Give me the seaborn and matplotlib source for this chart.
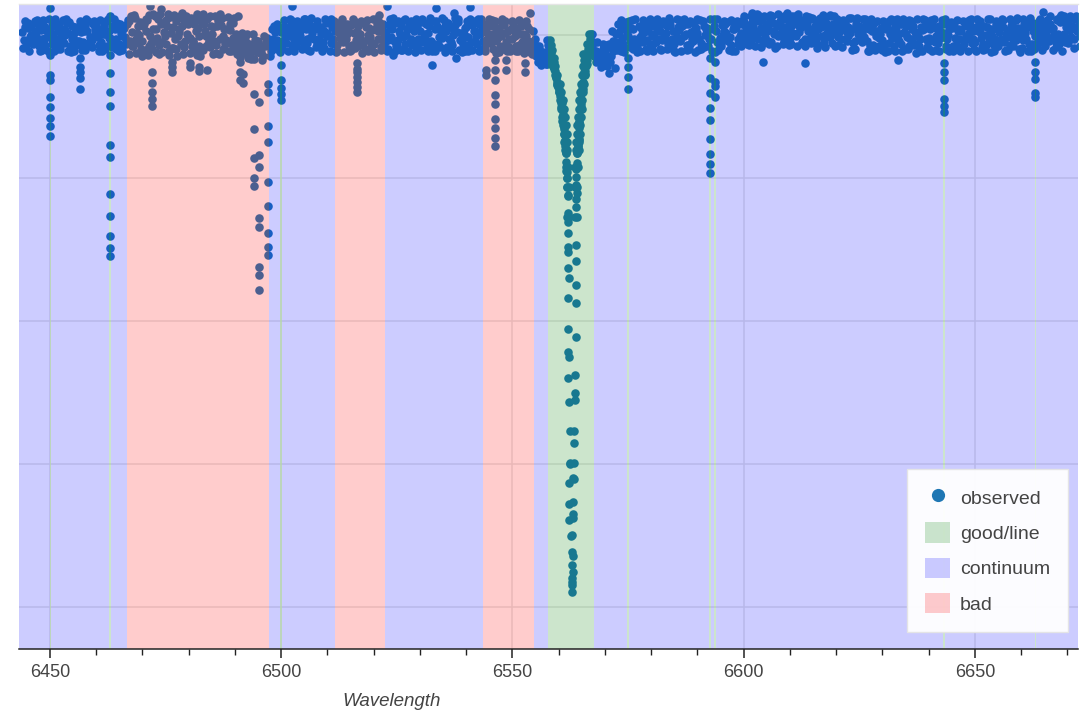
import numpy as np
import pandas as pd
import seaborn as sns
import matplotlib.pyplot as plt
from matplotlib.lines import Line2D
from matplotlib.patches import Patch
from matplotlib.ticker import MultipleLocator

sns.set_theme(style='white')
plt.rcParams['font.family'] = ['Liberation Sans', 'DejaVu Sans']

# Observed spectrum: six exposures on a 1 A grid, each slightly shifted
wave_grid = np.arange(6444, 6673)
exposure_shift = [0.0, 0.33, 0.67, 0.17, 0.5, 0.83]

flux_a = [1.004, 0.991, 1.012, 0.998, 1.007, 0.986,
          1.009, 0.995, 1.015, 0.989, 1.003, 0.997, 1.011, 0.984, 1.006, 0.993,
          1.013, 0.990, 1.002, 0.996, 1.008, 0.987, 1.010, 1.019, 0.985, 1.012,
          0.992, 1.021, 0.980, 1.008, 1.016, 0.988, 1.025, 0.995, 1.004, 0.983,
          1.018, 0.990, 1.010, 0.979, 1.022, 1.001, 0.986, 1.014, 0.993, 1.007,
          0.981, 0.995, 0.975, 0.988, 0.979, 0.992, 0.984, 0.996, 1.008, 0.993,
          1.004, 0.989, 1.012, 0.997, 1.006, 0.985, 1.015, 0.994, 1.009, 0.990,
          1.003, 1.011, 0.986, 1.007, 0.995, 1.014, 0.982, 1.001, 0.992, 1.010,
          0.988, 1.005, 1.016, 0.993, 1.008, 0.984, 1.012, 1.000, 1.019, 0.989,
          1.006, 0.995, 1.013, 0.987, 1.010, 0.998, 1.017, 0.986, 1.004, 0.992,
          1.011, 0.990, 1.006, 1.002, 0.985, 1.013, 0.992, 1.008, 0.981, 1.005,
          0.994, 1.010, 0.983, 0.999, 0.990, 0.978, 0.968, 0.966, 0.983, 0.952,
          0.925, 0.886, 0.775, 0.380, 0.835, 0.930, 0.960, 0.985, 0.978, 0.968,
          0.975, 0.983, 0.990, 1.004, 0.987, 0.998, 1.008, 0.985, 1.001, 0.993,
          1.012, 0.990, 1.005, 0.996, 1.014, 0.988, 1.007, 0.999, 1.016, 0.991,
          1.003, 0.986, 1.010, 0.994, 1.006, 0.989, 1.015, 0.997, 1.008, 0.992,
          1.018, 1.002, 1.012, 0.995, 1.021, 1.006, 0.990, 1.016, 1.003, 1.011,
          0.996, 1.019, 1.004, 1.013, 0.993, 1.022, 1.008, 0.998, 1.015, 1.001,
          1.010, 0.994, 1.017, 1.003, 0.991, 1.012, 0.997, 1.008, 0.986, 1.005,
          0.993, 1.011, 0.999, 1.007, 0.988, 1.013, 0.995, 1.004, 0.984, 1.009,
          0.996, 1.012, 0.989, 1.003, 0.994, 1.010, 0.986, 1.006, 0.998, 1.014,
          0.990, 1.004, 1.013, 0.992, 1.008, 0.985, 1.011, 0.997, 1.016, 0.993,
          1.007, 0.994, 1.012, 0.998, 1.006, 1.017, 0.991, 1.010, 1.002, 1.020,
          0.996, 1.013, 1.005]

flux_b = [0.993, 1.010, 0.988, 1.015, 0.995, 1.006,
          0.987, 1.013, 0.999, 1.007, 0.984, 1.011, 0.992, 1.005, 0.989, 1.016,
          0.997, 1.008, 0.985, 1.012, 0.994, 1.003, 0.988, 0.991, 1.024, 1.000,
          1.015, 0.985, 1.009, 1.023, 0.990, 1.012, 0.982, 1.019, 0.987, 1.021,
          0.996, 1.024, 0.984, 1.015, 0.992, 1.011, 1.020, 0.981, 1.009, 0.988,
          1.001, 0.977, 0.990, 0.972, 0.993, 0.981, 0.998, 0.985, 0.994, 1.011,
          0.992, 1.010, 0.986, 1.014, 0.991, 1.008, 0.996, 1.013, 0.984, 1.006,
          0.998, 0.987, 1.012, 0.990, 1.016, 0.986, 1.005, 0.993, 1.011, 0.983,
          1.009, 0.995, 0.987, 1.014, 0.991, 1.020, 0.997, 1.008, 0.986, 1.012,
          0.990, 1.015, 0.992, 1.009, 0.983, 1.013, 0.994, 1.006, 1.018, 0.988,
          0.997, 1.014, 0.987, 1.010, 1.004, 0.989, 1.011, 0.985, 1.003, 0.995,
          1.007, 0.986, 1.002, 0.991, 0.981, 0.985, 0.972, 0.960, 0.975, 0.944,
          0.915, 0.860, 0.550, 0.430, 0.855, 0.935, 0.980, 0.975, 0.990, 0.962,
          0.982, 0.970, 1.002, 0.989, 1.009, 0.983, 0.995, 1.012, 0.990, 1.006,
          0.987, 1.009, 0.993, 1.013, 0.985, 1.004, 0.992, 1.015, 0.988, 1.007,
          0.995, 1.012, 0.984, 1.008, 0.990, 1.014, 0.996, 0.986, 1.011, 1.003,
          0.994, 1.014, 0.997, 1.020, 1.004, 0.992, 1.017, 0.999, 1.023, 0.990,
          1.012, 0.998, 1.021, 0.994, 1.009, 1.003, 1.018, 0.991, 1.006, 1.016,
          0.997, 1.013, 0.992, 1.008, 1.015, 0.994, 1.010, 0.985, 1.006, 0.996,
          1.012, 0.989, 1.007, 0.993, 1.016, 0.997, 1.009, 0.987, 1.011, 0.995,
          1.008, 0.990, 1.013, 0.997, 1.009, 0.984, 1.005, 0.993, 1.012, 0.989,
          1.011, 0.996, 0.986, 1.009, 0.994, 1.013, 0.990, 1.007, 0.985, 1.010,
          0.993, 1.011, 0.988, 1.014, 0.996, 1.004, 1.015, 0.992, 1.018, 1.001,
          1.014, 0.994, 1.021]

flux_c = [1.011, 0.997, 1.005, 0.984, 1.013, 0.999,
          1.002, 0.988, 1.008, 1.017, 0.995, 0.986, 1.004, 1.012, 0.997, 1.001,
          0.986, 1.014, 1.006, 0.989, 1.011, 0.998, 1.016, 1.004, 0.995, 0.980,
          1.006, 0.998, 1.027, 0.986, 1.004, 0.978, 1.011, 0.999, 1.023, 1.002,
          0.985, 1.005, 1.019, 0.998, 0.983, 1.026, 0.995, 1.008, 0.978, 1.017,
          0.994, 0.984, 1.002, 0.982, 0.987, 0.976, 0.990, 0.993, 1.004, 0.987,
          1.013, 0.998, 0.993, 1.005, 1.016, 0.994, 1.003, 0.987, 1.011, 1.017,
          0.989, 1.006, 0.996, 1.015, 0.984, 1.003, 1.012, 0.988, 1.000, 1.007,
          1.015, 0.983, 1.004, 0.997, 1.017, 1.002, 0.988, 1.014, 1.005, 0.994,
          1.018, 1.003, 0.986, 1.012, 0.996, 1.006, 0.990, 1.014, 0.993, 1.010,
          0.986, 1.005, 1.015, 0.992, 1.012, 1.001, 0.994, 1.016, 0.990, 1.008,
          0.985, 1.002, 0.996, 1.008, 0.986, 0.980, 0.976, 0.970, 0.960, 0.930,
          0.905, 0.810, 0.300, 0.770, 0.885, 0.950, 0.985, 0.970, 0.972, 0.980,
          0.968, 0.992, 0.979, 0.996, 1.002, 1.010, 0.988, 0.997, 1.013, 0.984,
          1.001, 0.994, 1.016, 0.987, 1.006, 0.997, 1.012, 0.986, 1.004, 1.010,
          0.989, 1.000, 0.995, 1.013, 0.987, 1.005, 0.991, 1.009, 0.994, 1.016,
          1.007, 0.991, 1.025, 1.010, 0.997, 1.019, 1.005, 1.012, 0.993, 1.021,
          1.003, 1.014, 0.990, 1.017, 1.001, 0.995, 1.011, 1.020, 0.997, 1.008,
          1.004, 1.016, 0.999, 0.989, 1.007, 1.003, 0.991, 1.013, 0.998, 1.010,
          0.987, 1.002, 1.014, 0.991, 1.004, 0.985, 1.012, 0.999, 1.007, 0.983,
          1.015, 0.998, 1.004, 0.985, 1.016, 0.996, 1.009, 0.988, 1.003, 0.994,
          1.005, 0.987, 1.011, 0.998, 1.015, 0.995, 1.002, 0.986, 1.007, 0.999,
          1.015, 0.987, 1.005, 0.991, 1.010, 0.997, 1.008, 1.021, 0.994, 1.011,
          1.007, 1.023, 0.998]

flux_d = [0.982, 1.017, 0.994, 1.021, 0.979, 1.008,
          0.996, 1.022, 0.981, 1.000, 1.018, 0.977, 1.009, 0.990, 1.020, 0.983,
          1.006, 0.978, 1.019, 0.992, 0.981, 1.015, 0.997, 0.974, 1.028, 0.989,
          1.012, 0.972, 1.030, 0.996, 0.976, 1.021, 1.003, 0.980, 1.026, 0.991,
          0.975, 1.016, 0.999, 1.029, 0.987, 0.973, 1.012, 1.024, 0.990, 0.977,
          0.988, 0.969, 0.997, 0.978, 0.966, 0.985, 0.971, 0.989, 0.980, 1.016,
          0.980, 1.003, 1.021, 0.985, 0.999, 1.022, 0.978, 1.011, 0.995, 0.982,
          1.019, 0.994, 0.977, 1.022, 1.002, 0.979, 0.993, 1.020, 0.981, 0.997,
          0.976, 1.018, 1.001, 0.980, 1.024, 0.993, 0.979, 1.008, 0.995, 1.022,
          0.979, 1.001, 1.024, 0.978, 0.997, 1.021, 0.982, 1.000, 1.023, 0.976,
          1.020, 0.979, 0.998, 1.022, 0.977, 0.996, 1.019, 0.976, 1.014, 0.983,
          1.015, 0.977, 0.990, 1.013, 0.974, 0.970, 0.958, 0.965, 0.980, 0.950,
          0.920, 0.868, 0.660, 0.330, 0.845, 0.925, 0.970, 0.985, 0.962, 0.955,
          0.986, 0.962, 0.981, 1.014, 0.976, 1.019, 0.981, 0.992, 1.021, 0.978,
          0.998, 1.022, 0.979, 1.003, 1.020, 0.976, 0.993, 1.023, 0.980, 1.017,
          0.979, 1.020, 1.001, 0.977, 1.022, 0.984, 1.003, 1.021, 0.978, 0.999,
          1.026, 0.986, 1.007, 1.028, 0.989, 1.012, 1.027, 0.985, 1.013, 1.002,
          0.988, 1.027, 1.010, 0.984, 1.025, 0.999, 0.986, 1.028, 1.008, 0.989,
          1.023, 0.983, 1.006, 1.024, 0.981, 0.999, 1.022, 0.978, 1.017, 0.984,
          1.020, 0.978, 0.996, 1.022, 0.977, 1.001, 1.019, 0.975, 0.995, 1.021,
          0.980, 1.022, 0.977, 1.016, 1.000, 0.978, 1.021, 0.983, 0.995, 1.023,
          0.977, 1.019, 0.981, 1.022, 0.978, 1.004, 1.021, 0.979, 0.994, 1.024,
          0.982, 1.020, 0.978, 1.003, 1.023, 0.984, 1.026, 1.001, 0.987, 1.027,
          0.989, 1.024, 1.010]

flux_e = [1.019, 0.978, 1.002, 0.990, 1.021, 0.977,
          1.014, 0.980, 0.993, 1.022, 0.976, 1.004, 1.019, 0.979, 0.988, 1.020,
          0.977, 1.001, 1.022, 0.983, 1.017, 0.979, 0.992, 1.027, 0.975, 1.018,
          0.979, 1.028, 0.991, 0.973, 1.017, 1.029, 0.982, 0.970, 1.013, 1.027,
          1.024, 0.980, 0.971, 1.006, 1.027, 0.992, 0.974, 0.999, 1.025, 0.996,
          0.973, 1.003, 0.983, 0.967, 0.991, 0.975, 0.984, 0.970, 1.012, 0.979,
          1.021, 0.977, 1.005, 1.019, 0.980, 0.989, 1.024, 0.983, 1.001, 1.023,
          0.978, 1.020, 1.003, 0.976, 1.010, 1.023, 0.985, 0.975, 1.021, 0.990,
          1.022, 0.979, 0.992, 1.023, 0.978, 1.005, 1.021, 0.977, 1.012, 0.981,
          1.023, 0.984, 0.977, 1.019, 1.004, 0.976, 1.011, 1.024, 0.979, 1.002,
          0.978, 1.019, 1.023, 0.981, 0.994, 1.021, 0.975, 0.999, 1.020, 0.977,
          0.999, 1.021, 0.975, 0.983, 1.006, 0.962, 0.972, 0.960, 0.968, 0.940,
          0.905, 0.835, 0.400, 0.500, 0.878, 0.948, 0.985, 0.990, 0.968, 0.987,
          0.957, 1.005, 0.990, 0.978, 1.018, 0.992, 1.022, 0.977, 1.004, 1.019,
          0.977, 1.014, 1.020, 0.981, 0.995, 1.022, 0.978, 1.002, 1.019, 0.976,
          1.021, 0.983, 0.994, 1.023, 0.979, 1.000, 1.018, 0.977, 1.020, 0.985,
          1.010, 1.027, 0.984, 1.004, 1.026, 0.988, 1.002, 1.029, 0.987, 1.006,
          1.027, 0.985, 1.015, 1.026, 0.989, 1.013, 1.024, 0.983, 1.010, 1.027,
          0.986, 1.021, 1.011, 0.979, 1.024, 0.990, 1.017, 1.022, 0.979, 1.002,
          0.976, 1.020, 0.985, 1.002, 1.023, 0.980, 0.994, 1.022, 0.978, 1.016,
          1.021, 0.979, 0.996, 1.023, 0.978, 1.013, 0.994, 1.020, 0.977, 1.006,
          1.022, 0.983, 1.000, 0.976, 1.020, 0.991, 0.978, 1.023, 1.001, 0.980,
          1.022, 0.978, 1.017, 0.985, 0.979, 1.021, 0.996, 0.983, 1.025, 0.990,
          1.026, 0.982, 1.012]

flux_f = [0.985, 1.000, 1.020, 0.977, 0.996, 1.022,
          0.978, 1.005, 1.021, 0.977, 1.012, 0.992, 0.979, 1.023, 0.985, 1.009,
          1.021, 0.980, 0.996, 1.023, 0.977, 1.009, 1.021, 0.985, 1.003, 0.971,
          1.023, 0.989, 0.976, 1.030, 0.998, 0.972, 1.028, 1.008, 0.974, 1.015,
          0.991, 0.972, 1.027, 0.985, 1.012, 0.975, 1.029, 0.988, 1.016, 1.024,
          0.979, 0.990, 0.968, 1.001, 0.976, 0.965, 0.994, 0.978, 0.987, 0.976,
          0.997, 1.022, 0.978, 0.991, 1.023, 0.979, 1.009, 1.020, 0.977, 0.998,
          1.022, 0.976, 1.018, 0.998, 0.977, 1.020, 0.999, 1.017, 0.977, 1.023,
          0.995, 1.011, 0.977, 1.021, 0.985, 0.979, 1.023, 0.990, 0.976, 1.018,
          0.997, 0.978, 1.020, 0.988, 1.024, 0.983, 0.977, 1.019, 1.003, 0.978,
          1.023, 0.992, 0.978, 1.016, 1.022, 0.980, 1.004, 1.022, 0.977, 1.019,
          0.978, 1.013, 1.020, 0.976, 0.995, 0.985, 0.966, 0.975, 0.956, 0.930,
          0.897, 0.800, 0.235, 0.815, 0.900, 0.960, 0.995, 0.975, 0.975, 0.970,
          0.988, 0.977, 1.015, 0.984, 0.998, 1.021, 0.976, 1.010, 0.981, 1.022,
          1.019, 0.980, 0.999, 1.024, 0.977, 1.011, 1.021, 0.979, 0.995, 1.023,
          0.981, 1.009, 1.022, 0.976, 0.996, 1.020, 0.979, 1.013, 0.988, 1.021,
          0.988, 1.018, 1.029, 0.983, 1.015, 1.026, 0.982, 1.020, 1.027, 0.986,
          1.020, 1.029, 0.987, 1.005, 1.024, 0.982, 1.016, 1.001, 1.026, 0.984,
          1.016, 0.995, 1.024, 0.980, 1.001, 1.022, 0.977, 1.005, 1.020, 0.979,
          1.009, 1.022, 0.977, 1.016, 0.981, 1.021, 0.986, 0.977, 1.022, 0.990,
          0.977, 1.009, 1.021, 0.980, 1.018, 0.985, 0.977, 1.015, 1.021, 0.981,
          1.016, 0.979, 1.023, 0.988, 0.984, 1.022, 0.979, 1.012, 1.021, 0.976,
          1.003, 1.024, 0.980, 1.019, 0.990, 1.011, 0.979, 1.023, 0.977, 1.019,
          0.997, 1.027, 0.985]

# Narrow absorption features: centre wavelength and the fluxes stacked below it
line_centres = [6450.1, 6456.5, 6463.0, 6472.0, 6476.4, 6480.3, 6482.2, 6483.9,
                6491.1, 6491.7, 6494.2, 6495.2, 6497.05, 6499.9, 6516.4, 6544.3,
                6546.2, 6548.7, 6552.8, 6574.9, 6592.7, 6593.8, 6643.3, 6663.1]
line_depths = [
    [1.038, 0.972, 0.944, 0.937, 0.913, 0.899, 0.884, 0.873, 0.859],
    [0.968, 0.955, 0.948, 0.940, 0.924],
    [1.027, 0.972, 0.947, 0.920, 0.901, 0.846, 0.829, 0.778, 0.747, 0.719, 0.702, 0.691],
    [0.948, 0.933, 0.920, 0.910, 0.901],
    [0.962, 0.955, 0.948],
    [0.961, 0.955],
    [0.955, 0.950],
    [0.951],
    [0.962, 0.948, 0.937],
    [0.933, 0.945],
    [0.918, 0.868, 0.828, 0.800, 0.789],
    [0.907, 0.832, 0.815, 0.744, 0.731, 0.675, 0.664, 0.644],
    [0.932, 0.920, 0.873, 0.850, 0.795, 0.761, 0.723, 0.704, 0.692],
    [0.958, 0.937, 0.926, 0.917, 0.909],
    [0.961, 0.952, 0.948, 0.941, 0.934, 0.927, 0.920],
    [0.951, 0.944],
    [0.965, 0.951, 0.937, 0.916, 0.903, 0.883, 0.870, 0.856, 0.845],
    [0.965, 0.951],
    [0.961, 0.948],
    [0.968, 0.955, 0.941, 0.924],
    [0.968, 0.940, 0.919, 0.898, 0.881, 0.855, 0.834, 0.820, 0.807],
    [0.962, 0.934, 0.929, 0.913],
    [0.961, 0.948, 0.937, 0.910, 0.901, 0.892],
    [0.962, 0.948, 0.938, 0.919, 0.913],
]

# Stray points above / below the continuum band
stray_wave = [6524.1, 6532.5, 6537.8, 6569.8, 6570.9, 6572.1, 6604.2, 6613.2, 6633.3,
              6471.6, 6474.0, 6478.5, 6481.7, 6490.6, 6502.4, 6521.2, 6522.8, 6533.5,
              6537.4, 6540.8, 6553.8, 6573.5, 6586.0, 6601.7, 6605.7, 6609.3, 6618.6,
              6632.3, 6664.8, 6668.7]
stray_flux = [0.972, 0.958, 0.968, 0.965, 0.947, 0.954, 0.962, 0.961, 0.965,
              1.040, 1.036, 1.031, 1.029, 1.027, 1.040, 1.028, 1.040, 1.038,
              1.031, 1.039, 1.031, 1.021, 1.021, 1.031, 1.028, 1.031, 1.028,
              1.021, 1.032, 1.028]

# H-alpha profile (core points)
halpha_wave = [6557.9, 6558.1, 6558.4, 6558.8, 6559.0, 6559.4, 6559.6, 6559.9, 6560.2,
               6560.4, 6560.6, 6560.8, 6561.0, 6561.1, 6561.2, 6561.3, 6561.4, 6561.5,
               6561.6, 6561.7, 6561.8, 6561.9, 6562.05, 6562.05, 6562.05, 6562.05,
               6562.05, 6562.05, 6562.05, 6562.05, 6562.05, 6562.05, 6562.05, 6562.3,
               6562.3, 6562.3, 6562.3, 6562.4, 6562.4, 6562.8, 6562.8, 6562.8, 6562.8,
               6562.8, 6562.8, 6563.0, 6563.0, 6563.1, 6563.1, 6563.35, 6563.35, 6563.35,
               6563.5, 6563.5, 6563.65, 6563.65, 6563.65, 6563.65, 6563.7, 6563.7,
               6563.9, 6563.7, 6563.75, 6563.8, 6563.9, 6564.0, 6564.2, 6564.3, 6564.4,
               6564.5, 6564.6, 6564.7, 6564.8, 6564.9, 6565.1, 6565.3, 6565.5, 6565.7,
               6566.0, 6566.2, 6565.3, 6566.6, 6566.9]
halpha_flux = [0.990, 0.979, 0.968, 0.956, 0.962, 0.942, 0.935, 0.928, 0.920,
               0.900, 0.909, 0.880, 0.890, 0.872, 0.862, 0.845, 0.853, 0.835,
               0.822, 0.800, 0.809, 0.788, 0.776, 0.751, 0.739, 0.723, 0.704,
               0.697, 0.674, 0.632, 0.589, 0.556, 0.520, 0.487, 0.373, 0.344,
               0.322, 0.446, 0.402, 0.301, 0.277, 0.259, 0.240, 0.231, 0.221,
               0.271, 0.249, 0.347, 0.324, 0.446, 0.402, 0.379, 0.524, 0.490,
               0.684, 0.651, 0.625, 0.578, 0.706, 0.760, 0.779, 0.802, 0.790,
               0.812, 0.821, 0.835, 0.845, 0.853, 0.870, 0.878, 0.886, 0.895,
               0.904, 0.918, 0.925, 0.932, 0.955, 0.946, 0.970, 0.960, 0.974,
               0.988, 1.002]

# H-alpha wings: a pair of points from different exposures at each flux level
wing_flux = [0.993, 0.986, 0.979, 0.968, 0.956, 0.944, 0.932, 0.920, 0.909,
             0.897, 0.886, 0.874, 0.862, 0.850, 0.839, 0.816, 0.788, 0.746]
blue_wing = [[6557.5, 6558.1], [6557.7, 6558.3], [6557.9, 6558.5], [6558.3, 6558.9],
             [6558.7, 6559.3], [6559.1, 6559.7], [6559.6, 6560.2], [6560.0, 6560.6],
             [6560.3, 6560.9], [6560.6, 6561.2], [6560.8, 6561.4], [6560.95, 6561.55],
             [6561.1, 6561.7], [6561.2, 6561.8], [6561.3, 6561.9], [6561.5, 6562.1],
             [6561.7, 6562.2], [6561.85, 6562.25]]
red_wing_flux = [1.002, 0.988, 0.974, 0.965, 0.956, 0.944, 0.932, 0.920, 0.909,
                 0.897, 0.886, 0.874, 0.862, 0.850, 0.839, 0.816, 0.788, 0.746]
red_wing = [[6566.6, 6567.2], [6566.2, 6566.8], [6565.7, 6566.3], [6565.5, 6566.1],
            [6565.3, 6565.9], [6565.0, 6565.6], [6564.8, 6565.4], [6564.6, 6565.2],
            [6564.5, 6565.1], [6564.35, 6564.95], [6564.2, 6564.8], [6564.05, 6564.65],
            [6563.95, 6564.55], [6563.8, 6564.4], [6563.7, 6564.3], [6563.6, 6564.1],
            [6563.55, 6564.05], [6563.5, 6563.9]]

# Mask regions
good_lo = [6449.9, 6462.8, 6499.7, 6557.6, 6574.7, 6592.5, 6593.6, 6643.1, 6662.9]
good_hi = [6450.3, 6463.2, 6500.1, 6567.6, 6575.1, 6592.9, 6594.0, 6643.5, 6663.3]
cont_lo = [6443.0, 6450.3, 6463.2, 6497.4, 6500.1, 6522.4, 6554.6, 6567.6, 6575.1,
           6592.9, 6594.0, 6643.5, 6663.3]
cont_hi = [6449.9, 6462.8, 6466.7, 6499.7, 6511.7, 6543.6, 6557.6, 6574.7, 6592.5,
           6593.6, 6643.1, 6662.9, 6673.0]
bad_lo = [6466.7, 6511.7, 6543.6]
bad_hi = [6497.4, 6522.4, 6554.6]

# build one long table of points
exposure_flux = [flux_a, flux_b, flux_c, flux_d, flux_e, flux_f]
parts = []
for shift, flux in zip(exposure_shift, exposure_flux):
    parts.append(pd.DataFrame({'wavelength': wave_grid + shift, 'flux': flux}))
for centre, depths in zip(line_centres, line_depths):
    parts.append(pd.DataFrame({'wavelength': [centre] * len(depths), 'flux': depths}))
parts.append(pd.DataFrame({'wavelength': stray_wave, 'flux': stray_flux}))
parts.append(pd.DataFrame({'wavelength': halpha_wave, 'flux': halpha_flux}))
for level, waves in zip(wing_flux, blue_wing):
    parts.append(pd.DataFrame({'wavelength': waves, 'flux': [level] * len(waves)}))
for level, waves in zip(red_wing_flux, red_wing):
    parts.append(pd.DataFrame({'wavelength': waves, 'flux': [level] * len(waves)}))
spec = pd.concat(parts, ignore_index=True)

point_color = '#1f77b4'

fig = plt.figure(figsize=(10.89, 7.11), dpi=100)
ax = fig.add_axes([0.01745, 0.0872, 0.97245, 0.90717])

sns.scatterplot(data=spec, x='wavelength', y='flux', color=point_color, s=38,
                linewidth=0, ax=ax, zorder=1, legend=False)

for lo, hi in zip(good_lo, good_hi):
    ax.axvspan(lo, hi, color='green', alpha=0.2, lw=0, zorder=2)
for lo, hi in zip(cont_lo, cont_hi):
    ax.axvspan(lo, hi, color='blue', alpha=0.2, lw=0, zorder=2)
for lo, hi in zip(bad_lo, bad_hi):
    ax.axvspan(lo, hi, color='red', alpha=0.2, lw=0, zorder=2)

ax.set_xlim(6443.3, 6672.3)
ax.set_ylim(0.1413, 1.0434)

ax.xaxis.set_major_locator(MultipleLocator(50))
ax.xaxis.set_minor_locator(MultipleLocator(10))
ax.set_yticks([0.2, 0.4, 0.6, 0.8, 1.0])
ax.set_axisbelow(True)
ax.grid(True, which='major', color='#e5e5e5', lw=1.1)

ax.tick_params(axis='x', which='major', direction='out', length=6.5, width=1.1,
               color='#222222', pad=4, labelsize=13, labelcolor='#444444', bottom=True)
ax.tick_params(axis='x', which='minor', direction='out', length=4.3, width=1.0,
               color='#222222', bottom=True)
ax.tick_params(axis='y', length=0, labelleft=False)

ax.set_xlabel('Wavelength', fontsize=13.5, fontstyle='italic', color='#444444')
ax.xaxis.set_label_coords(0.352, -0.068)
ax.set_ylabel('')

for side in ['left', 'right']:
    ax.spines[side].set_visible(False)
ax.spines['top'].set_color('#e5e5e5')
ax.spines['top'].set_linewidth(1.0)
ax.spines['bottom'].set_color('#222222')
ax.spines['bottom'].set_linewidth(1.1)

handles = [
    Line2D([0], [0], marker='o', ls='none', color=point_color, markersize=9.5,
           markeredgewidth=0),
    Patch(facecolor=(0, 0.5, 0, 0.2), edgecolor='none'),
    Patch(facecolor=(0, 0, 1, 0.2), edgecolor='none'),
    Patch(facecolor=(1, 0, 0, 0.2), edgecolor='none'),
]
leg = ax.legend(handles, ['observed', 'good/line', 'continuum', 'bad'],
                loc='upper left', bbox_to_anchor=(0.8385, 0.2791), borderaxespad=0,
                fontsize=14, labelcolor='#444444', frameon=True, fancybox=False,
                framealpha=0.95, edgecolor='#e5e5e5', borderpad=0.93,
                handlelength=1.29, handleheight=1.23, handletextpad=0.51,
                labelspacing=0.75)
leg.get_frame().set_linewidth(1.0)
leg.set_zorder(5)

fig.savefig('out.png', dpi=100)
